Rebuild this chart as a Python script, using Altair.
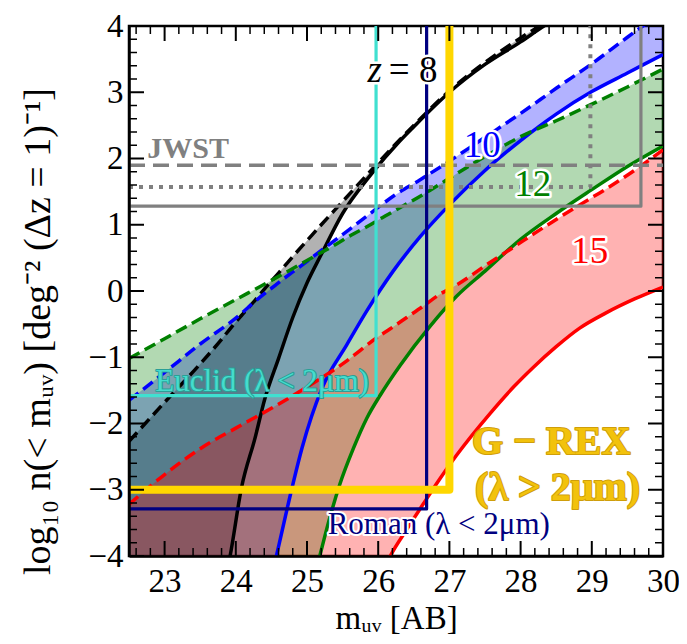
import altair as alt
import pandas as pd

FONT = "Liberation Serif"
W, H = 534, 530

# ---------------- data ----------------
# z = 8 band (black): upper = dashed, lower = solid
m_z8 = [22.5, 23.0, 23.5, 23.8, 23.92, 24.08, 24.27, 24.41, 24.6, 24.8, 25.0, 25.2, 25.5, 25.9, 26.3, 26.5, 27.0, 27.5, 28.0, 28.3, 28.6]
up_z8 = [-2.27, -1.68, -1.10, -0.73, -0.57, -0.37, -0.14, 0.04, 0.27, 0.52, 0.76, 1.00, 1.35, 1.82, 2.28, 2.50, 3.02, 3.45, 3.82, 4.02, 4.20]
lo_z8 = [-9.0, -7.5, -5.8, -4.6, -4.0, -2.97, -2.22, -1.62, -1.02, -0.40, 0.12, 0.55, 1.17, 1.76, 2.26, 2.48, 3.00, 3.42, 3.76, 3.98, 4.18]

# z = 10 band (blue)
m_z10 = [22.5, 23.0, 23.5, 24.0, 24.3, 24.57, 24.79, 24.93, 25.21, 25.56, 25.84, 26.21, 26.59, 27.0, 27.5, 28.0, 28.5, 29.0, 29.5, 30.0]
up_z10 = [-1.65, -1.23, -0.80, -0.41, -0.13, 0.10, 0.28, 0.39, 0.62, 0.90, 1.13, 1.43, 1.68, 1.96, 2.32, 2.68, 3.06, 3.43, 3.83, 4.22]
lo_z10 = [-12.0, -10.0, -8.0, -6.3, -5.2, -4.0, -2.97, -2.37, -1.47, -0.81, -0.30, 0.30, 0.82, 1.30, 1.82, 2.27, 2.67, 3.01, 3.29, 3.57]

# z = 12 band (green)
m_z12 = [22.5, 23.0, 23.5, 24.0, 24.5, 25.0, 25.18, 25.3, 25.46, 25.65, 25.84, 26.03, 26.31, 26.73, 27.1, 27.5, 28.0, 28.5, 29.0, 29.5, 30.0]
up_z12 = [-1.02, -0.72, -0.42, -0.13, 0.16, 0.46, 0.57, 0.64, 0.74, 0.86, 0.97, 1.09, 1.26, 1.52, 1.77, 2.03, 2.33, 2.57, 2.82, 3.08, 3.35]
lo_z12 = [-16.0, -14.0, -12.0, -10.0, -7.2, -4.8, -4.0, -3.5, -2.92, -2.38, -1.92, -1.57, -1.12, -0.53, -0.08, 0.30, 0.78, 1.17, 1.53, 1.88, 2.19]

# z = 15 band (red)
m_z15 = [22.5, 23.0, 23.5, 24.0, 24.5, 25.0, 25.5, 26.0, 26.17, 26.4, 26.63, 26.85, 27.1, 27.57, 27.9, 28.18, 28.5, 28.83, 29.2, 29.6, 30.0]
up_z15 = [-3.22, -2.77, -2.38, -2.07, -1.77, -1.45, -1.10, -0.69, -0.57, -0.40, -0.23, -0.06, 0.09, 0.43, 0.66, 0.86, 1.08, 1.30, 1.54, 1.82, 2.13]
lo_z15 = [-17.0, -15.5, -13.5, -11.5, -9.5, -7.6, -5.9, -4.4, -4.0, -3.6, -3.22, -2.86, -2.48, -1.85, -1.45, -1.15, -0.84, -0.56, -0.33, -0.12, 0.06]

# survey limits
jwst_dash_y = 1.90
jwst_dot_y, jwst_dot_m = 1.57, 28.98
jwst_solid_y, jwst_solid_m = 1.28, 29.69
euclid_y, euclid_m = -1.58, 25.97
roman_y, roman_m = -3.29, 26.68
grex_y, grex_m = -3.00, 27.00

# tick values
x_major = [23, 24, 25, 26, 27, 28, 29, 30]
y_major = [-4, -3, -2, -1, 0, 1, 2, 3, 4]
x_minor = [v for v in [round(22.6 + 0.2 * i, 1) for i in range(37)] if abs(v - round(v)) > 1e-6]
y_minor = [v for v in [round(-3.8 + 0.2 * i, 1) for i in range(39)] if abs(v - round(v)) > 1e-6]

# ---------------- scales / axes ----------------
xs = alt.Scale(domain=[22.5, 30], nice=False, zero=False)
ys = alt.Scale(domain=[-4, 4], nice=False, zero=False)

xaxis = alt.Axis(values=x_major, format="d", ticks=False, tickSize=0, grid=False,
                 domain=True, domainColor="black", domainWidth=2.5,
                 labelFont=FONT, labelFontSize=33, labelColor="black", labelPadding=9,
                 labelFlush=False,
                 title="mᵤᵥ [AB]", titleFont=FONT, titleFontSize=33,
                 titleFontWeight="normal", titleColor="black",
                 titleY=72, titleBaseline="alphabetic", zindex=1)
yaxis = alt.Axis(values=y_major, format="d", ticks=False, tickSize=0, grid=False,
                 domain=True, domainColor="black", domainWidth=2.5,
                 labelFont=FONT, labelFontSize=33, labelColor="black", labelPadding=6,
                 labelFlush=False,
                 title="log₁₀ n(< mᵤᵥ) [deg⁻² (Δz = 1)⁻¹]", titleFont=FONT, titleFontSize=38,
                 titleFontWeight="normal", titleColor="black", titlePadding=30,
                 titleY=305, zindex=1)


def X(f):
    return alt.X(f, type="quantitative", scale=xs, axis=xaxis)


def Y(f):
    return alt.Y(f, type="quantitative", scale=ys, axis=yaxis)


layers = []

bands = [
    (m_z8, up_z8, lo_z8, "black"),
    (m_z10, up_z10, lo_z10, "blue"),
    (m_z12, up_z12, lo_z12, "green"),
    (m_z15, up_z15, lo_z15, "red"),
]

for m, up, lo, c in bands:
    df = pd.DataFrame({"m": m, "up": up, "lo": lo})
    layers.append(
        alt.Chart(df).mark_area(color=c, fillOpacity=0.3, clip=True, interpolate="monotone")
        .encode(x=X("m"), y=Y("up"), y2=alt.Y2("lo"))
    )

for m, up, lo, c in bands:
    df = pd.DataFrame({"m": m, "up": up, "lo": lo})
    layers.append(
        alt.Chart(df).mark_line(color=c, strokeWidth=3.5, clip=True, interpolate="monotone")
        .encode(x=X("m"), y=Y("lo"))
    )
    layers.append(
        alt.Chart(df).mark_line(color=c, strokeWidth=3.5, strokeDash=[12, 6], clip=True,
                                interpolate="monotone")
        .encode(x=X("m"), y=Y("up"))
    )


def corner_line(ylev, mlev, color, width, dash=None):
    df = pd.DataFrame({"m": [22.5, mlev, mlev], "y": [ylev, ylev, 4.0], "o": [0, 1, 2]})
    kw = dict(color=color, strokeWidth=width, clip=True, strokeJoin="round", strokeCap="butt")
    if dash is not None:
        kw["strokeDash"] = dash
    return alt.Chart(df).mark_line(**kw).encode(x=X("m"), y=Y("y"), order="o:Q")


# JWST
layers.append(
    alt.Chart(pd.DataFrame({"m": [22.5, 30.0], "y": [jwst_dash_y, jwst_dash_y]}))
    .mark_line(color="gray", strokeWidth=3.5, strokeDash=[16, 8], clip=True)
    .encode(x=X("m"), y=Y("y"))
)
layers.append(corner_line(jwst_dot_y, jwst_dot_m, "gray", 4, [4, 6]))
layers.append(corner_line(jwst_solid_y, jwst_solid_m, "gray", 3.2))
# Euclid, Roman, G-REX
layers.append(corner_line(euclid_y, euclid_m, "#40e0d0", 3.2))
layers.append(corner_line(roman_y, roman_m, "navy", 3.2))
layers.append(corner_line(grex_y, grex_m, "#ffd700", 8))


def label(m, y, text, color, size, weight="normal", style="normal", halo=None,
          halo_w=5, align="center", dx=0):
    df = pd.DataFrame({"m": [m], "y": [y], "t": [text]})
    enc = dict(x=X("m"), y=Y("y"), text=alt.Text("t:N"))
    base = dict(font=FONT, fontSize=size, fontWeight=weight, fontStyle=style,
                align=align, baseline="middle", dx=dx)
    out = []
    if halo is not None:
        out.append(alt.Chart(df).mark_text(fill=halo, stroke=halo, strokeWidth=halo_w,
                                           strokeJoin="round", **base).encode(**enc))
    out.append(alt.Chart(df).mark_text(fill=color, **base).encode(**enc))
    return out


layers += label(23.33, 2.15, "JWST", "gray", 30, weight="bold")
layers += label(26.36, 3.32, "z", "black", 37, style="italic", halo="white", align="right", dx=-22)
layers += label(26.36, 3.32, "= 8", "black", 37, halo="white", align="left", dx=-15)
layers += label(27.46, 2.19, "10", "blue", 37, halo="white")
layers += label(28.17, 1.60, "12", "green", 37, halo="white")
layers += label(28.97, 0.59, "15", "red", 37, halo="white")
layers += label(24.37, -1.38, "Euclid (λ < 2μm)", "#45dccd", 31, halo="#2a9f97", halo_w=2)
layers += label(26.85, -3.53, "Roman (λ < 2μm)", "navy", 31, halo="white", halo_w=4)
layers += label(28.43, -2.28, "G − REX", "#f2c20c", 40, weight="bold", halo="#cf9e0a", halo_w=2)
layers += label(28.52, -2.97, "(λ > 2μm)", "#f2c20c", 40, weight="bold", halo="#cf9e0a", halo_w=2)


# inward ticks on all four sides
def xticks(vals, length, width):
    df = pd.DataFrame({"v": vals})
    bot = alt.Chart(df).mark_rule(color="black", strokeWidth=width).encode(
        x=X("v"), y=alt.value(H), y2=alt.value(H - length))
    top = alt.Chart(df).mark_rule(color="black", strokeWidth=width).encode(
        x=X("v"), y=alt.value(0), y2=alt.value(length))
    return [bot, top]


def yticks(vals, length, width):
    df = pd.DataFrame({"v": vals})
    left = alt.Chart(df).mark_rule(color="black", strokeWidth=width).encode(
        y=Y("v"), x=alt.value(0), x2=alt.value(length))
    right = alt.Chart(df).mark_rule(color="black", strokeWidth=width).encode(
        y=Y("v"), x=alt.value(W), x2=alt.value(W - length))
    return [left, right]


layers += xticks(x_major, 15, 2)
layers += xticks(x_minor, 8, 1.5)
layers += yticks(y_major, 15, 2)
layers += yticks(y_minor, 8, 1.5)

chart = (
    alt.layer(*layers)
    .properties(width=W, height=H,
                padding={"left": 121, "top": 18, "right": 16, "bottom": 80},
                autosize=alt.AutoSizeParams(type="none"))
    .configure_view(stroke="black", strokeWidth=2.5)
)

chart.save("out.html", embed_options={"renderer": "svg", "actions": False})
